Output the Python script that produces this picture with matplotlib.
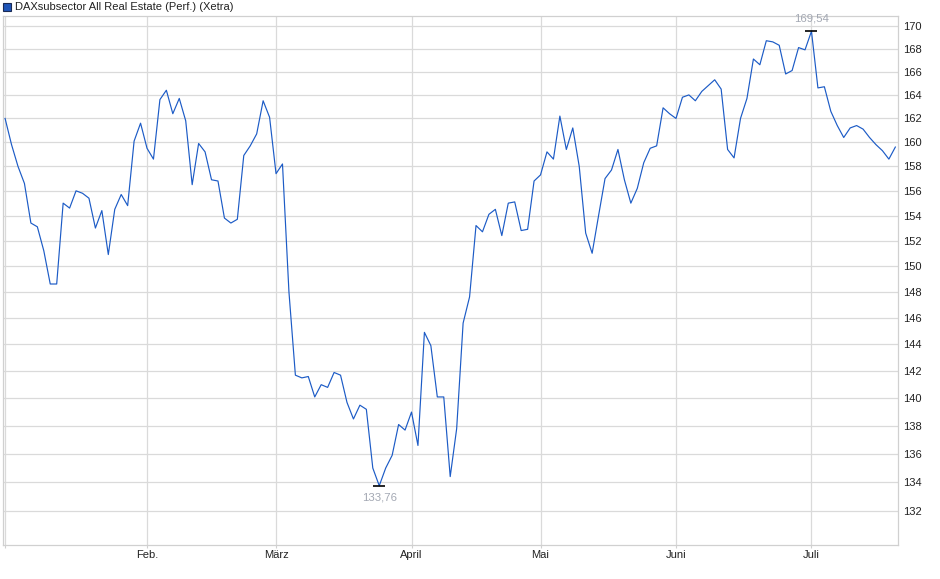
import numpy as np
import matplotlib
matplotlib.use("Agg")
import matplotlib.pyplot as plt
from matplotlib.ticker import FixedLocator, NullLocator, FuncFormatter
from matplotlib.patches import Rectangle

# DAXsubsector All Real Estate, one value per trading day (Jan 2 .. Jul 17)
values = [
    162.0, 159.8, 158.0, 156.6, 153.4, 153.1, 151.2, 148.6, 148.6, 155.0,
    154.6, 156.0, 155.8, 155.4, 153.0, 154.4, 150.9, 154.5, 155.7, 154.8,
    160.1, 161.6, 159.5, 158.6, 163.6, 164.4, 162.4, 163.7, 161.8, 156.5,
    159.9, 159.2, 156.9, 156.8, 153.8, 153.4, 153.7, 158.9, 159.7, 160.7,
    163.5, 162.1, 157.4, 158.2, 148.0, 141.7, 141.5, 141.6, 140.1, 141.0,
    140.8, 141.9, 141.7, 139.7, 138.5, 139.5, 139.2, 135.0, 133.76, 135.0,
    135.9, 138.1, 137.7, 139.0, 136.6, 144.9, 143.9, 140.1, 140.1, 134.4,
    137.8, 145.6, 147.6, 153.2, 152.7, 154.1, 154.5, 152.4, 155.0, 155.1,
    152.8, 152.9, 156.8, 157.3, 159.2, 158.6, 162.2, 159.4, 161.2, 158.0,
    152.6, 151.0, 154.0, 157.0, 157.7, 159.4, 156.9, 155.0, 156.2, 158.3,
    159.5, 159.7, 162.9, 162.4, 162.0, 163.8, 164.0, 163.5, 164.3, 164.8,
    165.3, 164.5, 159.4, 158.7, 162.0, 163.7, 167.1, 166.6, 168.7, 168.6,
    168.3, 165.8, 166.1, 168.1, 167.9, 169.54, 164.6, 164.7, 162.6, 161.4,
    160.4, 161.2, 161.4, 161.1, 160.4, 159.8, 159.3, 158.6, 159.6,
]

# first trading day of each month (index into values)
month_pos = [0, 22, 42, 63, 83, 104, 125]
month_labels = ["", "Feb.", "März", "April", "Mai", "Juni", "Juli"]
y_ticks = list(range(132, 171, 2))

title = "DAXsubsector All Real Estate (Perf.) (Xetra)"

plt.rcParams["font.family"] = ["Liberation Sans", "DejaVu Sans"]

W, H = 940, 579
fig = plt.figure(figsize=(W / 100, H / 100), dpi=100)
ax = fig.add_axes([2.7 / W, 1 - 545.3 / H, (898.3 - 2.7) / W, (545.3 - 16) / H])

x = np.arange(len(values))
ax.plot(x, values, color="#1c5bc6", lw=0.85, zorder=3)

ax.set_yscale("log")
ax.set_ylim(129.67, 170.89)
ax.set_xlim(-0.37, 138.46)

ax.yaxis.set_major_locator(FixedLocator(y_ticks))
ax.yaxis.set_minor_locator(NullLocator())
ax.yaxis.set_major_formatter(FuncFormatter(lambda v, p: f"{v:.0f}"))
ax.yaxis.tick_right()
ax.tick_params(axis="y", length=0, pad=3.5, labelsize=8, labelcolor="#222222")

ax.set_xticks(month_pos)
ax.set_xticklabels(month_labels)
ax.tick_params(axis="x", length=2, width=0.8, color="#d0d0d0", pad=1.2,
               labelsize=8, labelcolor="#222222")

ax.grid(True, color="#dadada", lw=0.9, zorder=0)
for s in ax.spines.values():
    s.set_color("#d0d0d0")
    s.set_linewidth(0.9)

# high / low markers
i_max = int(np.argmax(values))
i_min = int(np.argmin(values))
for i, dy, va in [(i_max, 5.5, "bottom"), (i_min, -4.5, "top")]:
    ax.plot(x[i], values[i], marker="_", ms=9, mew=1.2, color="black", zorder=4)
    ax.annotate(f"{values[i]:.2f}".replace(".", ","), (x[i], values[i]),
                xytext=(0, dy), textcoords="offset points", ha="center", va=va,
                fontsize=8.2, color="#a3a8b3")

# legend-like title
fig.patches.append(Rectangle((3 / W, 1 - 11 / H), 8 / W, 8 / H, transform=fig.transFigure,
                             facecolor="#1f55b8", edgecolor="#1a2a55", lw=0.8))
fig.text(15 / W, 1 - 6.5 / H, title, fontsize=8, color="#222222", va="center", ha="left")

fig.savefig("out.png", dpi=100)
